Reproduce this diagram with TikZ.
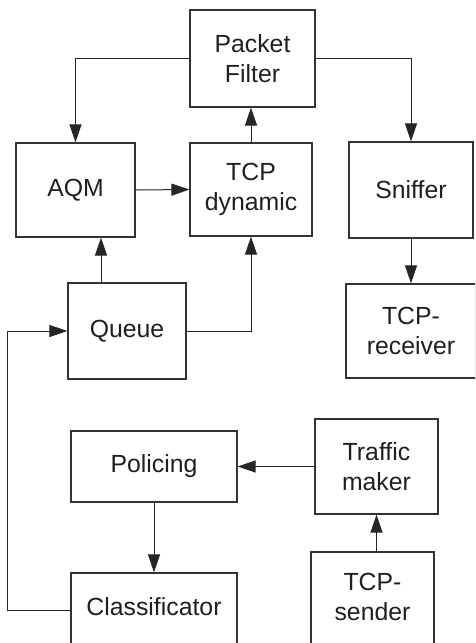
\documentclass[tikz,border=0pt]{standalone}
\usepackage{fontspec}
\setmainfont{Liberation Sans}
\usetikzlibrary{arrows.meta,calc}
\begin{document}
\begin{tikzpicture}[x=1pt,y=-1pt,
  blk/.style={draw=black!80,line width=1.2pt,rectangle,inner sep=0pt,align=center,
    text=black!88,font=\fontsize{24.8}{29.5}\selectfont},
  conn/.style={draw=black!85,line width=1pt,-{Triangle[length=18pt,width=12pt]}},
  plain/.style={draw=black!85,line width=1pt}]
\useasboundingbox (0,0) rectangle (475,643);
\clip (0,0) rectangle (475,643);
\node[blk,minimum width=125pt,minimum height=97pt] (pf) at (252.5,58.5) {Packet\\Filter};
\node[blk,minimum width=119pt,minimum height=94pt] (aqm) at (75.5,190) {AQM};
\node[blk,minimum width=122pt,minimum height=93pt] (tcp) at (251,189.5) {TCP\\dynamic};
\node[blk,minimum width=124pt,minimum height=96pt] (sniff) at (411,190) {Sniffer};
\node[blk,minimum width=118pt,minimum height=96pt] (queue) at (127,331) {Queue};
\node[blk,minimum width=130pt,minimum height=94pt] (recv) at (411,331) {TCP-\\receiver};
\node[blk,minimum width=166pt,minimum height=71pt] (pol) at (154,466.5) {Policing};
\node[blk,minimum width=123pt,minimum height=95pt] (traf) at (376.5,466.5) {Traffic\\maker};
\node[blk,minimum width=166pt,minimum height=74pt] (cls) at (154,610) {};
\node[blk,draw=none] (clstext) at (154,607) {Classificator};
\node[blk,minimum width=123pt,minimum height=96pt] (send) at (372.5,600) {};
\node[blk,draw=none] (sendtext) at (372.5,597) {TCP-\\sender};
\coordinate (qtop) at ($(queue.north)+(-26,0)$);
\coordinate (loop) at ($(cls.west)+(-63,0)$);
\draw[conn] (pf.west) -| (aqm.north);
\draw[conn] (pf.east) -| (sniff.north);
\draw[conn] (tcp.north) -- (tcp.north |- pf.south);
\draw[conn] (aqm.east) -- (tcp.west);
\draw[conn] (qtop) -- (qtop |- aqm.south);
\draw[conn] (queue.east) -| (tcp.south);
\draw[conn] (sniff.south) -- (recv.north);
\draw[conn] (traf.west) -- (pol.east);
\draw[conn] (pol.south) -- (cls.north);
\draw[conn] (traf.south |- send.north) -- (traf.south);
\draw[conn] (cls.west) -- (loop) |- (queue.west);
\end{tikzpicture}
\end{document}
